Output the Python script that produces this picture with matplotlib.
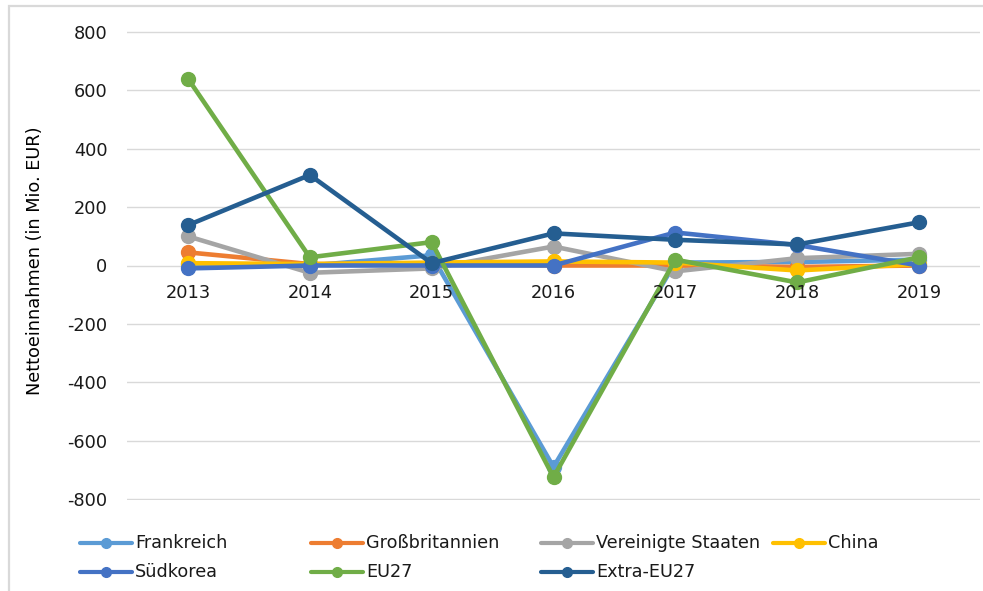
#!/usr/bin/env python
# -*- coding: utf-8 -*-
"""Nettoeinnahmen nach Partnerland, 2013-2019 (Excel-style line chart)."""

import matplotlib
matplotlib.use('Agg')
import matplotlib.pyplot as plt
from matplotlib.lines import Line2D
from matplotlib.patches import Rectangle

plt.rcParams['font.family'] = ['DejaVu Sans']

# data
years = ['2013', '2014', '2015', '2016', '2017', '2018', '2019']
frankreich = [5, 0, 35, -690, 10, 12, 20]
grossbritannien = [45, 5, 5, 0, 0, -5, 0]
usa = [100, -25, -10, 65, -20, 25, 40]
china = [8, 5, 10, 14, 10, -17, 5]
suedkorea = [-10, 0, 0, 0, 113, 70, 0]
eu27 = [640, 28, 80, -725, 20, -58, 28]
extra_eu27 = [138, 310, 8, 110, 88, 72, 148]

series_names = ['Frankreich', 'Großbritannien', 'Vereinigte Staaten', 'China',
                'Südkorea', 'EU27', 'Extra-EU27']
series_values = [frankreich, grossbritannien, usa, china, suedkorea, eu27, extra_eu27]
colors = ['#5B9BD5', '#ED7D31', '#A5A5A5', '#FFC000', '#4472C4', '#70AD47', '#255E91']
y_ticks = [-800, -600, -400, -200, 0, 200, 400, 600, 800]

W, H = 983, 591
ax_l, ax_r, ax_t, ax_b = 127., 980., 31., 500.
fig = plt.figure(figsize=(W / 100., H / 100.), dpi=100)
ax = fig.add_axes([ax_l / W, 1 - ax_b / H, (ax_r - ax_l) / W, (ax_b - ax_t) / H])

x = list(range(len(years)))
for name, vals, col in zip(series_names, series_values, colors):
	ax.plot(x, vals, color=col, lw=3.3, marker='o', ms=10, label=name,
	        solid_joinstyle='round', solid_capstyle='round', clip_on=False)

ax.set_xlim(-0.5, len(years) - 0.5)
ax.set_ylim(-803, 803)
ax.set_yticks(y_ticks)
ax.set_yticklabels([str(v) for v in y_ticks])
ax.set_xticks([])
ax.tick_params(axis='y', length=0, pad=14, labelsize=12.8, labelcolor='#1a1a1a')
ax.yaxis.grid(True, color='#D9D9D9', lw=1.0)
ax.set_axisbelow(True)
for sp in ax.spines.values():
	sp.set_visible(False)

# year labels sit just under the zero line, like in Excel
for i, yr in enumerate(years):
	ax.annotate(yr, (i, 0), xytext=(0, -19.5), textcoords='offset points',
	            ha='center', va='center', fontsize=12.8, color='#1a1a1a')

ax.set_ylabel('Nettoeinnahmen (in Mio. EUR)', fontsize=12.8, color='#000000')
ax.yaxis.set_label_coords((44. - ax_l) / (ax_r - ax_l), 0.51)

# legend drawn by hand so the columns are evenly spaced
col_x = [80, 311, 541, 773]
row_y = [543, 572]
for i, (name, col) in enumerate(zip(series_names, colors)):
	r, c = divmod(i, 4)
	x0 = col_x[c]
	y0 = 1 - row_y[r] / float(H)
	fig.add_artist(Line2D([x0 / float(W), (x0 + 52) / float(W)], [y0, y0], color=col, lw=3.0,
	                      solid_capstyle='round', transform=fig.transFigure))
	fig.add_artist(Line2D([(x0 + 26) / float(W)], [y0], color=col, marker='o', ms=7,
	                      transform=fig.transFigure))
	fig.text((x0 + 55) / float(W), y0, name, ha='left', va='center', fontsize=12.7,
	         color='#1a1a1a')

# chart area border (cut off on the right and bottom in the reference)
fig.add_artist(Rectangle((9. / W, -0.1), 1.2, 1 - 6. / H + 0.1, fill=False,
                         edgecolor='#D9D9D9', lw=1.6, transform=fig.transFigure))

fig.savefig('out.png', dpi=100)
